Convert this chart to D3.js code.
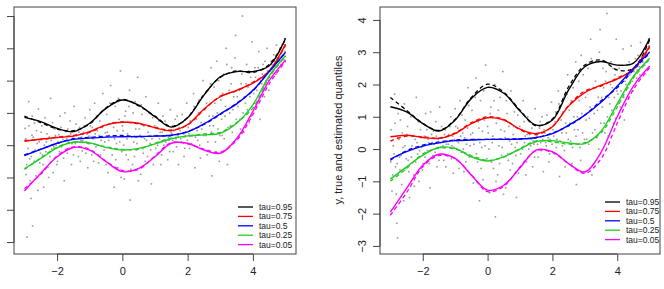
<!DOCTYPE html>
<html>
<head>
<meta charset="utf-8">
<script src="https://cdn.jsdelivr.net/npm/d3@7"></script>
<style>
  body { margin: 0; background: #fff; }
  svg { font-family: "Liberation Sans", Arial, sans-serif; }
</style>
</head>
<body>
<svg id="chart" width="664" height="289"></svg>
<script>
// x grid for the quantile curves
let xs = [-3, -2.5, -2, -1.5, -1, -0.5, 0, 0.5, 1, 1.5, 2, 2.5, 3, 3.5, 4, 4.5, 5];

let taus = ['tau=0.95', 'tau=0.75', 'tau=0.5', 'tau=0.25', 'tau=0.05'];
let colors = ['#000000', '#ff0000', '#0000ff', '#22cc22', '#ff00ff'];

let xTicks = [-2, 0, 2, 4];
let yTicks = [-3, -2, -1, 0, 1, 2, 3, 4];

// left panel: true quantiles (solid)
let q95L = [0.86, 0.73, 0.52, 0.42, 0.68, 1.14, 1.4, 1.24, 0.88, 0.56, 0.85, 1.55, 2.12, 2.28, 2.28, 2.46, 3.31];
let q75L = [0.12, 0.19, 0.24, 0.28, 0.42, 0.63, 0.71, 0.68, 0.54, 0.45, 0.64, 1.12, 1.5, 1.7, 1.92, 2.3, 3.13];
let q50L = [-0.32, -0.13, 0.06, 0.18, 0.22, 0.25, 0.26, 0.27, 0.28, 0.31, 0.41, 0.66, 0.97, 1.28, 1.7, 2.28, 2.88];
let q25L = [-0.73, -0.41, -0.08, 0.09, 0.07, -0.07, -0.15, -0.1, 0.04, 0.2, 0.29, 0.32, 0.37, 0.68, 1.25, 2.15, 2.78];
let q05L = [-1.42, -0.87, -0.36, -0.07, -0.15, -0.51, -0.82, -0.72, -0.36, 0.06, 0.06, -0.15, -0.25, 0.2, 1.05, 2.0, 2.64];
// left panel: estimated quantiles (dashed)
let e95L = [0.9, 0.7, 0.5, 0.45, 0.66, 1.16, 1.42, 1.22, 0.9, 0.58, 0.86, 1.57, 2.1, 2.3, 2.25, 2.5, 3.28];
let e75L = [0.15, 0.17, 0.25, 0.3, 0.4, 0.62, 0.72, 0.66, 0.55, 0.47, 0.62, 1.1, 1.52, 1.68, 1.95, 2.28, 3.1];
let e50L = [-0.3, -0.12, 0.05, 0.2, 0.24, 0.28, 0.3, 0.26, 0.29, 0.3, 0.43, 0.64, 0.95, 1.3, 1.68, 2.3, 2.86];
let e25L = [-0.75, -0.4, -0.06, 0.1, 0.05, -0.05, -0.13, -0.12, 0.06, 0.22, 0.27, 0.35, 0.4, 0.7, 1.15, 2.1, 2.76];
let e05L = [-1.35, -0.9, -0.33, -0.05, -0.13, -0.5, -0.78, -0.75, -0.33, 0.08, 0.04, -0.12, -0.22, 0.15, 0.95, 1.9, 2.6];

// right panel: true quantiles (solid)
let q95R = [1.31, 1.15, 0.79, 0.56, 0.9, 1.57, 1.91, 1.73, 1.18, 0.74, 0.9, 1.83, 2.55, 2.71, 2.6, 2.66, 3.43];
let q75R = [0.38, 0.43, 0.36, 0.33, 0.48, 0.79, 0.97, 0.9, 0.62, 0.48, 0.69, 1.33, 1.75, 1.98, 2.17, 2.48, 3.19];
let q50R = [-0.31, -0.08, 0.09, 0.19, 0.26, 0.28, 0.3, 0.3, 0.31, 0.36, 0.48, 0.74, 1.05, 1.45, 1.95, 2.5, 3.0];
let q25R = [-0.93, -0.55, -0.19, 0.05, 0.02, -0.24, -0.37, -0.24, 0.0, 0.23, 0.26, 0.19, 0.17, 0.55, 1.4, 2.25, 2.81];
let q05R = [-1.95, -1.22, -0.5, -0.16, -0.29, -0.81, -1.27, -1.12, -0.58, -0.03, -0.08, -0.45, -0.71, -0.1, 1.0, 1.95, 2.57];
// right panel: estimated quantiles (dashed)
let e95R = [1.6, 1.2, 0.8, 0.58, 0.92, 1.6, 2.01, 1.76, 1.2, 0.72, 0.93, 1.93, 2.6, 2.76, 2.45, 2.5, 3.38];
let e75R = [0.25, 0.4, 0.38, 0.34, 0.5, 0.82, 1.0, 0.92, 0.6, 0.45, 0.7, 1.35, 1.8, 1.95, 2.2, 2.45, 3.15];
let e50R = [-0.35, -0.05, 0.12, 0.22, 0.28, 0.3, 0.3, 0.31, 0.32, 0.35, 0.5, 0.72, 1.05, 1.5, 1.9, 2.45, 2.97];
let e25R = [-1.0, -0.6, -0.15, 0.03, 0.0, -0.2, -0.35, -0.25, 0.02, 0.25, 0.22, 0.15, 0.2, 0.5, 1.3, 2.2, 2.78];
let e05R = [-2.05, -1.35, -0.55, -0.2, -0.3, -0.8, -1.32, -1.15, -0.55, -0.05, -0.1, -0.45, -0.75, -0.3, 0.8, 1.85, 2.52];

let pointsL = [
  [-2.98,0.52],[-2.95,-0.91],[-2.92,-2.85],[-2.91,0.14],[-2.87,1.35],[-2.84,-0.42],[-2.8,-1.65],[-2.77,0.31],[-2.75,-2.5],
  [-2.72,-0.2],[-2.69,0.68],[-2.65,-0.95],[-2.61,0.05],[-2.57,1.12],[-2.53,-0.55],
  [-2.49,0.4],[-2.45,-0.3],[-2.41,-1.3],[-2.37,0.85],[-2.33,0.1],[-2.28,-0.68],
  [-2.24,0.25],[-2.2,1.45],[-2.16,-0.12],[-2.12,-0.85],[-2.07,0.5],[-2.03,0.0],
  [-1.99,-0.5],[-1.95,0.32],[-1.91,0.9],[-1.86,-0.05],[-1.82,0.18],[-1.78,-1.1],
  [-1.73,0.42],[-1.69,-0.25],[-1.65,0.1],[-1.6,0.75],[-1.56,-0.6],[-1.52,0.26],
  [-1.48,1.2],[-1.44,0.05],[-1.4,0.3],[-1.35,-0.35],[-1.31,0.55],[-1.27,0.15],
  [-1.23,-0.18],[-1.19,0.4],[-1.14,0.85],[-1.1,0.1],[-1.06,-0.7],[-1.02,0.28],
  [-0.98,0.6],[-0.94,-0.3],[-0.9,0.2],[-0.85,1.3],[-0.81,-0.05],[-0.77,0.45],
  [-0.73,-0.55],[-0.69,0.75],[-0.65,0.15],[-0.6,1.6],[-0.56,-0.15],[-0.52,0.38],
  [-0.48,0.95],[-0.44,-0.85],[-0.4,0.3],[-0.36,1.85],[-0.31,-0.3],[-0.27,0.55],[-0.25,-1.3],
  [-0.22,1.2],[-0.18,0.05],[-0.14,-0.7],[-0.1,0.8],[-0.06,2.3],[-0.02,-0.2],
  [0.02,0.45],[0.06,-1.05],[0.1,1.05],[0.14,0.2],[0.18,-0.45],[0.22,1.7],[0.24,-1.7],
  [0.27,0.7],[0.31,-0.6],[0.35,0.1],[0.39,1.35],[0.43,-0.15],[0.47,2.1],
  [0.52,0.5],[0.56,-0.9],[0.6,0.95],[0.64,-0.25],[0.68,0.2],[0.72,1.5],
  [0.77,-0.35],[0.81,0.6],[0.85,0.05],[0.89,-1.2],[0.93,0.85],[0.97,0.3],
  [1.02,-0.1],[1.06,0.55],[1.1,1.3],[1.14,0.2],[1.18,-0.6],[1.22,0.4],
  [1.27,0.0],[1.31,0.75],[1.35,0.3],[1.39,-0.45],[1.43,0.15],[1.47,1.1],
  [1.52,0.35],[1.56,-0.2],[1.6,0.6],[1.64,0.2],[1.68,0.9],[1.72,-0.6],
  [1.77,0.45],[1.81,0.1],[1.85,0.7],[1.89,-0.35],[1.93,0.3],[1.97,1.3],
  [2.02,0.55],[2.06,-0.1],[2.1,1.0],[2.14,0.3],[2.18,1.6],[2.22,-0.7],
  [2.27,0.8],[2.31,0.15],[2.35,1.4],[2.39,-0.4],[2.43,0.5],[2.47,2.0],
  [2.52,1.1],[2.56,0.3],[2.6,-0.3],[2.64,1.7],[2.68,0.6],[2.72,2.4],[2.74,-0.95],
  [2.77,0.9],[2.81,1.8],[2.85,0.1],[2.89,2.6],[2.93,0.5],[2.97,-0.5],
  [3.02,1.4],[3.06,0.3],[3.1,2.2],[3.14,0.9],[3.18,3.0],[3.22,-0.6],
  [3.27,1.7],[3.31,0.6],[3.35,2.4],[3.39,1.1],[3.43,0.1],[3.47,3.4],
  [3.52,1.5],[3.56,2.3],[3.6,0.8],[3.64,1.9],[3.68,4.0],[3.72,0.4],
  [3.77,1.3],[3.81,2.5],[3.85,1.8],[3.89,0.7],[3.93,2.1],[3.97,3.2],
  [4.02,1.6],[4.06,2.4],[4.1,1.2],[4.14,2.0],[4.18,2.9],[4.22,0.8],
  [4.27,1.9],[4.31,2.5],[4.35,1.5],[4.39,2.2],[4.43,3.0],[4.47,2.0],
  [4.52,2.3],[4.56,2.6],[4.6,2.1],[4.64,2.8],[4.68,2.45],[4.72,3.1],
  [4.77,2.7],[4.81,2.9],[4.85,2.5],[4.89,3.1],[4.93,2.8],[4.97,3.3],[4.99,2.9],
  [-2.99,-0.3],[-2.96,0.2],[-2.93,-0.6],[-2.89,-0.1],[-2.86,0.6],[-2.82,-1.1],[-2.79,-0.35],[-2.76,0.9],
  [-2.73,0.25],[-2.7,-0.5],[-2.67,-0.15],[-2.63,0.45],[-2.59,-1.4],[-2.55,0.1],[-2.51,-0.25],
  [-2.47,0.6],[-2.43,-0.6],[-2.39,0.0],[-2.35,-0.2],[-2.31,0.35],[-2.26,-1.0],
  [-2.22,-0.35],[-2.18,0.15],[-2.14,0.7],[-2.1,-0.05],[-2.05,0.3],[-2.01,-0.6],
  [-1.97,0.1],[-1.93,-0.2],[-1.88,0.55],[-1.84,0.25],[-1.8,-0.4],[-1.76,1.0],
  [-1.71,0.2],[-1.67,0.5],[-1.62,-0.1],[-1.58,0.35],[-1.54,0.05],[-1.5,-0.3],
  [-1.46,0.2],[-1.42,0.65],[-1.38,0.1],[-1.33,0.4],[-1.29,-0.5],[-1.25,0.25],
  [-1.21,0.15],[-1.17,0.6],[-1.12,-0.25],[-1.08,0.35],[-1.04,0.05],[-1.0,1.1],
  [-0.96,0.25],[-0.92,0.55],[-0.88,-0.5],[-0.83,0.35],[-0.79,0.9],[-0.75,0.0],
  [-0.71,0.3],[-0.67,-0.3],[-0.62,0.55],[-0.58,1.1],[-0.54,0.1],[-0.5,-0.6],
  [-0.46,0.4],[-0.42,0.15],[-0.38,1.3],[-0.34,-0.1],[-0.29,0.7],[-0.24,0.2],
  [-0.2,-0.45],[-0.16,0.45],[-0.12,1.45],[-0.08,0.1],[-0.04,-1.0],[0.0,0.6],
  [0.04,0.0],[0.08,0.9],[0.12,-0.3],[0.16,0.35],[0.2,1.2],[0.26,-0.75],
  [0.29,0.25],[0.33,1.0],[0.37,-0.35],[0.41,0.5],[0.45,0.05],[0.49,-1.1],
  [0.54,0.3],[0.58,1.25],[0.62,-0.1],[0.66,0.6],[0.7,-0.5],[0.74,0.15],
  [0.79,0.4],[0.83,1.0],[0.87,-0.15],[0.91,0.2],[0.95,-0.6],[0.99,0.6],
  [1.04,0.3],[1.08,0.0],[1.12,0.75],[1.16,0.4],[1.2,-0.3],[1.24,0.9],
  [1.29,0.45],[1.33,0.1],[1.37,0.6],[1.41,0.25],[1.45,-0.2],[1.49,0.4],
  [1.54,0.15],[1.58,0.45],[1.62,0.8],[1.66,-0.05],[1.7,0.3],[1.74,0.55],
  [1.79,0.2],[1.83,0.95],[1.87,0.35],[1.91,-0.1],[1.95,0.6],[1.99,0.15],
  [2.04,0.35],[2.08,0.75],[2.12,0.05],[2.16,0.5],[2.2,1.2],[2.24,0.25],
  [2.29,0.45],[2.33,1.0],[2.37,0.0],[2.41,0.7],[2.45,1.5],[2.49,0.3],
  [2.54,0.7],[2.58,1.3],[2.62,0.1],[2.66,0.9],[2.7,1.9],[2.73,0.4],
  [2.79,0.6],[2.83,1.3],[2.87,-0.2],[2.91,1.0],[2.95,2.0],[2.99,0.3],
  [3.04,0.8],[3.08,1.6],[3.12,0.2],[3.16,1.2],[3.2,2.5],[3.24,0.55],
  [3.29,1.0],[3.33,1.9],[3.37,0.4],[3.41,1.5],[3.45,2.7],[3.49,0.8],
  [3.54,1.2],[3.58,1.7],[3.62,0.5],[3.66,2.2],[3.7,1.0],[3.74,1.5],
  [3.79,1.9],[3.83,1.1],[3.87,2.3],[3.91,1.5],[3.95,0.9],[3.99,1.7],
  [4.04,1.3],[4.08,2.1],[4.12,1.7],[4.16,2.4],[4.2,1.5],[4.24,2.0],
  [4.29,2.2],[4.33,1.8],[4.37,2.6],[4.41,2.0],[4.45,2.3],[4.49,1.7],
  [4.54,2.2],[4.58,2.5],[4.62,2.35],[4.66,2.6],[4.7,2.2],[4.74,2.7],
  [4.79,2.6],[4.83,3.0],[4.87,2.75],[4.91,2.95],[4.95,2.65],[4.98,3.1]
];
let pointsR = [
  [-2.98,0.6],[-2.95,-1.3],[-2.91,0.1],[-2.87,1.7],[-2.84,-0.55],[-2.8,-2.3],[-2.78,-2.75],[-2.77,0.35],
  [-2.72,-0.25],[-2.69,0.9],[-2.65,-1.1],[-2.61,0.05],[-2.57,1.4],[-2.53,-0.6],
  [-2.49,0.45],[-2.45,-0.35],[-2.41,-1.5],[-2.37,1.0],[-2.33,0.1],[-2.28,-0.8],
  [-2.24,0.3],[-2.2,1.6],[-2.16,-0.15],[-2.12,-1.0],[-2.07,0.6],[-2.03,0.05],
  [-1.99,-0.45],[-1.95,0.4],[-1.91,1.1],[-1.86,-0.05],[-1.82,0.2],[-1.78,-1.2],
  [-1.73,0.45],[-1.69,-0.2],[-1.65,0.15],[-1.6,0.85],[-1.56,-0.55],[-1.52,0.3],
  [-1.48,1.3],[-1.44,0.05],[-1.4,0.35],[-1.35,-0.35],[-1.31,0.6],[-1.27,0.15],
  [-1.23,-0.2],[-1.19,0.45],[-1.14,1.0],[-1.1,0.1],[-1.06,-0.75],[-1.02,0.3],
  [-0.98,0.7],[-0.94,-0.35],[-0.9,0.2],[-0.85,1.5],[-0.81,-0.1],[-0.77,0.5],
  [-0.73,-0.7],[-0.69,0.9],[-0.65,0.15],[-0.6,1.9],[-0.56,-0.25],[-0.52,0.45],
  [-0.48,1.2],[-0.44,-1.05],[-0.4,0.3],[-0.36,2.2],[-0.31,-0.4],[-0.27,0.65],[-0.25,-1.6],
  [-0.22,1.5],[-0.18,0.05],[-0.14,-0.95],[-0.1,0.9],[-0.06,2.6],[-0.02,-0.3],
  [0.02,0.5],[0.06,-1.35],[0.1,1.3],[0.14,0.2],[0.18,-0.6],[0.22,2.0],[0.24,-2.1],
  [0.27,0.8],[0.31,-0.8],[0.35,0.1],[0.39,1.6],[0.43,-0.2],[0.47,2.4],
  [0.52,0.55],[0.56,-1.2],[0.6,1.1],[0.64,-0.35],[0.68,0.25],[0.72,1.8],
  [0.77,-0.45],[0.81,0.7],[0.85,0.05],[0.89,-1.5],[0.93,1.05],[0.97,0.3],
  [1.02,-0.15],[1.06,0.6],[1.1,1.5],[1.14,0.2],[1.18,-0.8],[1.22,0.45],
  [1.27,0.0],[1.31,0.85],[1.35,0.3],[1.39,-0.55],[1.43,0.15],[1.47,1.25],
  [1.52,0.4],[1.56,-0.25],[1.6,0.65],[1.64,0.2],[1.68,1.0],[1.72,-0.7],
  [1.77,0.5],[1.81,0.1],[1.85,0.8],[1.89,-0.4],[1.93,0.3],[1.97,1.45],
  [2.02,0.6],[2.06,-0.15],[2.1,1.15],[2.14,0.3],[2.18,1.8],[2.22,-0.85],
  [2.27,0.9],[2.31,0.1],[2.35,1.6],[2.39,-0.55],[2.43,0.5],[2.47,2.3],
  [2.52,1.2],[2.56,0.25],[2.6,-0.45],[2.64,1.9],[2.68,0.6],[2.72,2.7],[2.74,-1.1],
  [2.77,1.0],[2.81,2.1],[2.85,0.05],[2.89,2.9],[2.93,0.5],[2.97,-0.7],
  [3.02,1.6],[3.06,0.3],[3.1,2.5],[3.14,0.95],[3.18,3.4],[3.22,-0.8],
  [3.27,1.9],[3.31,0.6],[3.35,2.7],[3.39,1.2],[3.43,0.0],[3.47,3.7],
  [3.52,1.6],[3.56,2.5],[3.6,0.8],[3.64,2.1],[3.68,4.2],[3.72,0.4],
  [3.77,1.4],[3.81,2.7],[3.85,1.9],[3.89,0.8],[3.93,2.3],[3.97,3.4],
  [4.02,1.7],[4.06,2.5],[4.1,1.3],[4.14,2.1],[4.18,3.1],[4.22,0.9],
  [4.27,2.0],[4.31,2.6],[4.35,1.6],[4.39,2.3],[4.43,3.2],[4.47,2.1],
  [4.52,2.4],[4.56,2.8],[4.6,2.2],[4.64,2.9],[4.68,2.55],[4.72,3.3],
  [4.77,2.8],[4.81,3.0],[4.85,2.6],[4.89,3.2],[4.93,2.9],[4.97,3.4],[4.99,3.0],
  [-2.99,-0.4],[-2.96,0.25],[-2.93,-0.8],[-2.89,-0.15],[-2.86,0.8],[-2.82,-1.4],[-2.79,-0.45],[-2.76,1.1],
  [-2.73,0.3],[-2.7,-0.65],[-2.67,-0.2],[-2.63,0.5],[-2.59,-1.6],[-2.55,0.1],[-2.51,-0.3],
  [-2.47,0.7],[-2.43,-0.7],[-2.39,0.0],[-2.35,-0.25],[-2.31,0.4],[-2.26,-1.15],
  [-2.22,-0.4],[-2.18,0.2],[-2.14,0.85],[-2.1,-0.05],[-2.05,0.35],[-2.01,-0.65],
  [-1.97,0.1],[-1.93,-0.25],[-1.88,0.6],[-1.84,0.3],[-1.8,-0.45],[-1.76,1.15],
  [-1.71,0.2],[-1.67,0.55],[-1.62,-0.1],[-1.58,0.4],[-1.54,0.05],[-1.5,-0.35],
  [-1.46,0.2],[-1.42,0.7],[-1.38,0.1],[-1.33,0.45],[-1.29,-0.55],[-1.25,0.25],
  [-1.21,0.15],[-1.17,0.7],[-1.12,-0.3],[-1.08,0.4],[-1.04,0.05],[-1.0,1.25],
  [-0.96,0.25],[-0.92,0.65],[-0.88,-0.6],[-0.83,0.4],[-0.79,1.05],[-0.75,0.0],
  [-0.71,0.35],[-0.67,-0.4],[-0.62,0.65],[-0.58,1.35],[-0.54,0.1],[-0.5,-0.8],
  [-0.46,0.5],[-0.42,0.15],[-0.38,1.6],[-0.34,-0.15],[-0.29,0.85],[-0.24,0.2],
  [-0.2,-0.6],[-0.16,0.55],[-0.12,1.8],[-0.08,0.1],[-0.04,-1.3],[0.0,0.7],
  [0.04,0.0],[0.08,1.1],[0.12,-0.4],[0.16,0.4],[0.2,1.5],[0.26,-1.0],
  [0.29,0.3],[0.33,1.2],[0.37,-0.45],[0.41,0.6],[0.45,0.05],[0.49,-1.4],
  [0.54,0.35],[0.58,1.5],[0.62,-0.15],[0.66,0.7],[0.7,-0.65],[0.74,0.15],
  [0.79,0.45],[0.83,1.15],[0.87,-0.2],[0.91,0.2],[0.95,-0.75],[0.99,0.7],
  [1.04,0.3],[1.08,0.0],[1.12,0.85],[1.16,0.4],[1.2,-0.4],[1.24,1.0],
  [1.29,0.45],[1.33,0.1],[1.37,0.65],[1.41,0.25],[1.45,-0.25],[1.49,0.45],
  [1.54,0.15],[1.58,0.5],[1.62,0.85],[1.66,-0.05],[1.7,0.3],[1.74,0.6],
  [1.79,0.2],[1.83,1.05],[1.87,0.35],[1.91,-0.15],[1.95,0.65],[1.99,0.15],
  [2.04,0.4],[2.08,0.85],[2.12,0.05],[2.16,0.55],[2.2,1.4],[2.24,0.25],
  [2.29,0.5],[2.33,1.15],[2.37,-0.05],[2.41,0.8],[2.45,1.7],[2.49,0.3],
  [2.54,0.8],[2.58,1.5],[2.62,0.05],[2.66,1.0],[2.7,2.2],[2.73,0.4],
  [2.79,0.6],[2.83,1.5],[2.87,-0.35],[2.91,1.1],[2.95,2.3],[2.99,0.3],
  [3.04,0.9],[3.08,1.8],[3.12,0.15],[3.16,1.3],[3.2,2.8],[3.24,0.5],
  [3.29,1.1],[3.33,2.1],[3.37,0.35],[3.41,1.6],[3.45,3.0],[3.49,0.8],
  [3.54,1.3],[3.58,1.9],[3.62,0.5],[3.66,2.4],[3.7,1.0],[3.74,1.6],
  [3.79,2.0],[3.83,1.2],[3.87,2.5],[3.91,1.6],[3.95,0.95],[3.99,1.8],
  [4.04,1.4],[4.08,2.2],[4.12,1.8],[4.16,2.6],[4.2,1.6],[4.24,2.1],
  [4.29,2.3],[4.33,1.9],[4.37,2.7],[4.41,2.1],[4.45,2.4],[4.49,1.8],
  [4.54,2.3],[4.58,2.6],[4.62,2.45],[4.66,2.7],[4.7,2.3],[4.74,2.85],
  [4.79,2.7],[4.83,3.1],[4.87,2.85],[4.91,3.05],[4.95,2.75],[4.98,3.2]
];

let svg = d3.select('#chart');

let panels = [
  {
    box: { left: 14, right: 296, top: 7, bottom: 254 },
    yDomain: [-3.37, 4.28],
    truth: [q95L, q75L, q50L, q25L, q05L],
    est: [e95L, e75L, e50L, e25L, e05L],
    points: pointsL,
    yLabels: false,
    legend: { x: 238, y: 207 }
  },
  {
    box: { left: 380, right: 660, top: 7, bottom: 254 },
    yDomain: [-3.25, 4.4],
    truth: [q95R, q75R, q50R, q25R, q05R],
    est: [e95R, e75R, e50R, e25R, e05R],
    points: pointsR,
    yLabels: true,
    legend: { x: 605, y: 202 }
  }
];

let fmt = d => d < 0 ? '\u2212' + Math.abs(d) : String(d);

panels.forEach(p => {
  let b = p.box;
  let x = d3.scaleLinear().domain([-3.32, 5.32]).range([b.left, b.right]);
  let y = d3.scaleLinear().domain(p.yDomain).range([b.bottom, b.top]);

  let g = svg.append('g');

  // points
  g.selectAll('.pt')
    .data(p.points)
    .enter()
    .append('rect')
    .attr('class', 'pt')
    .attr('x', d => x(d[0]) - 0.8)
    .attr('y', d => y(d[1]) - 0.8)
    .attr('width', 1.6)
    .attr('height', 1.6)
    .attr('fill', '#9a9a9a');

  let line = d3.line()
    .x((d, i) => x(xs[i]))
    .y(d => y(d))
    .curve(d3.curveCatmullRom);

  // estimated (dashed)
  p.est.forEach((s, k) => {
    g.append('path')
      .attr('d', line(s))
      .attr('fill', 'none')
      .attr('stroke', colors[k])
      .attr('stroke-width', 1.3)
      .attr('stroke-dasharray', '4,3');
  });

  // true (solid)
  p.truth.forEach((s, k) => {
    g.append('path')
      .attr('d', line(s))
      .attr('fill', 'none')
      .attr('stroke', colors[k])
      .attr('stroke-width', 1.4);
  });

  // box
  g.append('rect')
    .attr('x', b.left)
    .attr('y', b.top)
    .attr('width', b.right - b.left)
    .attr('height', b.bottom - b.top)
    .attr('fill', 'none')
    .attr('stroke', '#444')
    .attr('stroke-width', 1);

  // x axis
  let xa = g.append('g')
    .attr('transform', `translate(0, ${b.bottom})`)
    .call(d3.axisBottom(x).tickValues(xTicks).tickSizeOuter(0).tickSize(7).tickPadding(6).tickFormat(fmt));
  xa.select('.domain')
    .attr('d', `M${x(-2)},0H${x(4)}`)
    .attr('stroke', '#444');

  // y axis
  let ya = g.append('g')
    .attr('transform', `translate(${b.left}, 0)`)
    .call(d3.axisLeft(y).tickValues(yTicks).tickSizeOuter(0).tickSize(7).tickFormat(fmt));
  ya.select('.domain')
    .attr('d', `M0,${y(-3)}V${y(4)}`)
    .attr('stroke', '#444');
  if (p.yLabels) {
    ya.selectAll('.tick text')
      .attr('transform', 'rotate(-90)')
      .attr('x', 0)
      .attr('y', -14)
      .attr('dy', null)
      .attr('text-anchor', 'middle');
  } else {
    ya.selectAll('.tick text').remove();
  }

  [xa, ya].forEach(a => {
    a.selectAll('.tick line').attr('stroke', '#444');
    a.selectAll('.tick text')
      .attr('fill', '#222')
      .style('font-size', '11px')
      .style('font-family', '"Liberation Sans", Arial, sans-serif');
  });

  // legend
  let lg = g.append('g')
    .attr('transform', `translate(${p.legend.x}, ${p.legend.y})`);
  taus.forEach((t, k) => {
    let row = lg.append('g').attr('transform', `translate(0, ${k * 9.4})`);
    row.append('line')
      .attr('x1', 0).attr('x2', 15)
      .attr('stroke', colors[k])
      .attr('stroke-width', 1.3);
    row.append('text')
      .attr('x', 21)
      .attr('dy', '0.35em')
      .style('font-size', '8.5px')
      .attr('fill', '#222')
      .text(t);
  });
});

// y label for the right panel
svg.append('text')
  .attr('transform', 'translate(342, 130) rotate(-90)')
  .attr('text-anchor', 'middle')
  .style('font-size', '11px')
  .attr('fill', '#222')
  .text('y, true and estimated quantiles');
</script>
</body>
</html>
